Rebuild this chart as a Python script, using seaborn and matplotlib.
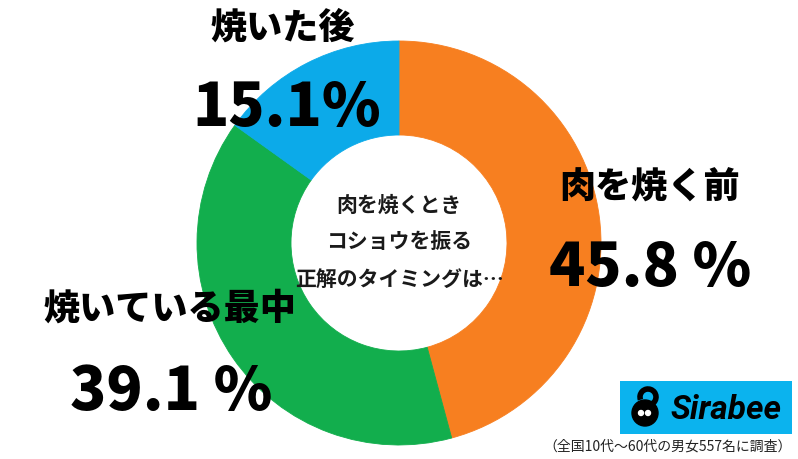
import matplotlib
matplotlib.use("Agg")
import matplotlib.pyplot as plt
import seaborn as sns
from matplotlib.patches import Rectangle, Circle, Arc

# ---- data ----
categories = ["肉を焼く前", "焼いている最中", "焼いた後"]
values = [45.8, 39.1, 15.1]
value_labels = ["45.8 %", "39.1 %", "15.1%"]
colors = ["#F77F20", "#12AE4D", "#0CAAE9"]
center_lines = ["肉を焼くとき", "コショウを振る", "正解のタイミングは…"]
footnote = "（全国10代〜60代の男女557名に調査）"
logo_text = "Sirabee"

sns.set_theme(style="white")
plt.rcParams['font.family'] = ['Noto Sans CJK JP', 'DejaVu Sans']

W, H = 798, 460
fig = plt.figure(figsize=(W / 100, H / 100), dpi=100)
ax = fig.add_axes([0, 0, 1, 1])
ax.set_xlim(0, W)
ax.set_ylim(0, H)
ax.set_aspect('equal')
ax.axis('off')

def Y(y):
    return H - y

palette = sns.color_palette(colors)
cx, cy, R = 399, 244, 202
wedges, _ = ax.pie(values, colors=palette, startangle=90, counterclock=False,
                   center=(cx, Y(cy)), radius=R,
                   wedgeprops=dict(width=R - 108, linewidth=0.6), frame=True)
for w, c in zip(wedges, palette):
    w.set_edgecolor(c)
ax.set_xlim(0, W)
ax.set_ylim(0, H)
ax.axis('off')

# center text
for i, line in enumerate(center_lines):
    ax.text(cx, Y(205 + i * 37), line, ha='center', va='center',
            fontsize=15, fontweight='bold', color='#1a1a1a')

# category labels
cat_pos = [(650, 188), (170, 309), (283, 28)]
val_pos = [(650, 268), (171, 392), (287, 108)]
for c, (x, y) in zip(categories, cat_pos):
    ax.text(x, Y(y), c, ha='center', va='center', fontsize=26,
            fontweight='heavy', color='black')
for v, (x, y) in zip(value_labels, val_pos):
    ax.text(x, Y(y), v, ha='center', va='center', fontsize=43,
            fontweight='heavy', color='black')

# logo
ax.add_patch(Rectangle((620, Y(435)), 172, 53, color='#0BB3EE', lw=0, zorder=3))
ax.add_patch(Circle((645, Y(414)), 13, color='black', zorder=4))
ax.add_patch(Arc((648, Y(398)), 16, 16, theta1=-60, theta2=200,
                 color='black', lw=4, zorder=4))
ax.add_patch(Circle((641, Y(414)), 2.5, color='white', zorder=5))
ax.add_patch(Circle((648, Y(414)), 2.5, color='white', zorder=5))
ax.text(726, Y(410), logo_text, ha='center', va='center', fontsize=24,
        fontweight='bold', fontstyle='italic', family='Roboto',
        color='black', zorder=5)

# footnote
ax.text(792, Y(447), footnote, ha='right', va='center', fontsize=10,
        color='#222222')

fig.savefig("out.png", dpi=100, facecolor='white')
